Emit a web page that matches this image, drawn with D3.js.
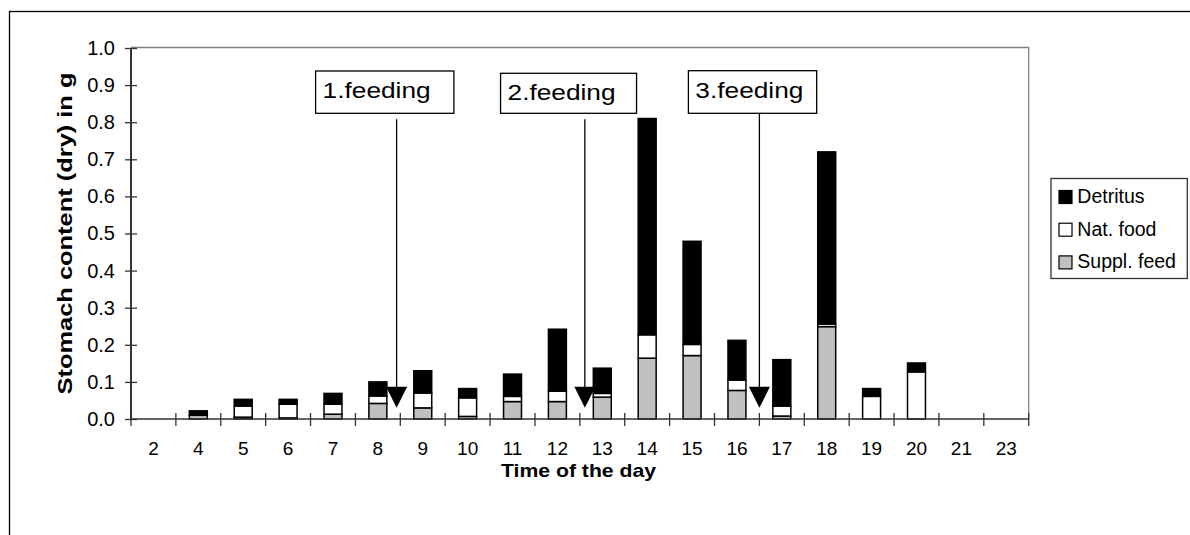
<!DOCTYPE html>
<html>
<head>
<meta charset="utf-8">
<script src="https://cdn.jsdelivr.net/npm/d3@7"></script>
<style>
  body { margin: 0; background: #fff; }
  svg { display: block; font-family: "Liberation Sans", Arial, sans-serif; }
</style>
</head>
<body>
<svg id="chart" width="1190" height="535"></svg>
<script>
// hours of the day (categories)
const hours = ["2", "4", "5", "6", "7", "8", "9", "10", "11", "12", "13", "14", "15", "16", "17", "18", "19", "20", "21", "23"];

// stomach content (dry) in g, per component
const supplFeed = [0, 0.010, 0.005, 0.003, 0.013, 0.042, 0.030, 0.007, 0.047, 0.047, 0.059, 0.164, 0.171, 0.077, 0.008, 0.249, 0, 0, 0, 0];
const natFood   = [0, 0.000, 0.030, 0.037, 0.027, 0.020, 0.040, 0.050, 0.014, 0.028, 0.010, 0.063, 0.030, 0.028, 0.027, 0.007, 0.061, 0.127, 0, 0];
const detritus  = [0, 0.012, 0.018, 0.013, 0.029, 0.038, 0.060, 0.025, 0.060, 0.167, 0.068, 0.583, 0.278, 0.107, 0.125, 0.464, 0.021, 0.024, 0, 0];

const yTicks = [0, 0.1, 0.2, 0.3, 0.4, 0.5, 0.6, 0.7, 0.8, 0.9, 1.0];

// feeding events, placed at the gap after these hours
const feedingLabels = ["1.feeding", "2.feeding", "3.feeding"];
const feedingAfter = ["8", "12", "16"];

const seriesNames = ["Suppl. feed", "Nat. food", "Detritus"];
const seriesColors = { "Suppl. feed": "#c0c0c0", "Nat. food": "#ffffff", "Detritus": "#000000" };

const svg = d3.select("#chart");
const plotLeft = 131, plotRight = 1028.7, plotTop = 48, plotBottom = 419;

// outer chart frame
svg.append("rect")
  .attr("x", 9.5).attr("y", 11.5).attr("width", 1300).attr("height", 700)
  .attr("fill", "none").attr("stroke", "#000").attr("stroke-width", 1.3);

// plot area frame (grey top/right)
svg.append("path")
  .attr("d", `M${plotLeft},${plotTop - 0.5}H${plotRight}V${plotBottom}`)
  .attr("fill", "none").attr("stroke", "#808080").attr("stroke-width", 1.3);

const x = d3.scaleBand().domain(hours).range([plotLeft, plotRight]).paddingInner(0.6).paddingOuter(0.3);
const y = d3.scaleLinear().domain([0, 1]).range([plotBottom, plotTop]);

const rows = hours.map((h, i) => ({
  hour: h,
  "Suppl. feed": supplFeed[i],
  "Nat. food": natFood[i],
  "Detritus": detritus[i]
}));
const stacked = d3.stack().keys(seriesNames)(rows);

const gap = (x.step() - x.bandwidth()) / 2;

// bars
svg.append("g").selectAll("g")
  .data(stacked)
  .join("g")
  .attr("fill", d => seriesColors[d.key])
  .selectAll("rect")
  .data(d => d.filter(s => s[1] - s[0] > 0))
  .join("rect")
  .attr("x", d => x(d.data.hour))
  .attr("width", x.bandwidth())
  .attr("y", d => y(d[1]))
  .attr("height", d => y(d[0]) - y(d[1]))
  .attr("stroke", "#000")
  .attr("stroke-width", 1.5);

// y axis
const yAxis = svg.append("g")
  .attr("transform", `translate(${plotLeft},0)`)
  .call(d3.axisLeft(y).tickValues(yTicks).tickFormat(d3.format(".1f")).tickSize(6).tickPadding(10));
yAxis.select(".domain").attr("stroke", "#333").attr("stroke-width", 2).attr("d", `M0,${plotTop}V${plotBottom}`);
yAxis.selectAll(".tick line").attr("x1", -6).attr("x2", 6).attr("stroke", "#333").attr("stroke-width", 1.3);
yAxis.selectAll(".tick text").attr("font-size", 20).attr("fill", "#000")
  .attr("font-family", "'Liberation Sans', Arial, sans-serif");

// x axis
const xAxis = svg.append("g")
  .attr("transform", `translate(0,${plotBottom})`)
  .call(d3.axisBottom(x).tickSize(0).tickPadding(23));
xAxis.select(".domain").attr("stroke", "#333").attr("stroke-width", 1.6).attr("d", `M${plotLeft},0H${plotRight}`);
xAxis.selectAll(".tick text").attr("font-size", 19).attr("fill", "#000")
  .attr("font-family", "'Liberation Sans', Arial, sans-serif");

// tick marks between categories
const bounds = hours.map(h => x(h) - gap).concat([plotRight]);
xAxis.append("g").selectAll("line")
  .data(bounds)
  .join("line")
  .attr("x1", d => d).attr("x2", d => d)
  .attr("y1", -6).attr("y2", 7)
  .attr("stroke", "#333").attr("stroke-width", 1.3);

// axis titles
svg.append("text")
  .attr("transform", "translate(72,233.5) rotate(-90)")
  .attr("text-anchor", "middle")
  .attr("font-size", 21).attr("font-weight", "bold")
  .attr("textLength", 322).attr("lengthAdjust", "spacingAndGlyphs")
  .text("Stomach content (dry) in g");

svg.append("text")
  .attr("x", 578.5).attr("y", 477)
  .attr("text-anchor", "middle")
  .attr("font-size", 19).attr("font-weight", "bold")
  .attr("textLength", 155).attr("lengthAdjust", "spacingAndGlyphs")
  .text("Time of the day");

// feeding annotations
const arrowShift = [-3.7, 5, 0];
const boxLeft = [-81, -84.3, -71];
const boxWidth = [138.3, 136, 128.3];
const boxTop = [71, 73.3, 70.7];
const lineStart = [119.3, 119.3, 113.3];

const ann = svg.append("g");
feedingLabels.forEach((label, i) => {
  const ax = x(feedingAfter[i]) + x.bandwidth() + gap + arrowShift[i];
  const tipY = y(0.03);
  const bx = ax + boxLeft[i];
  ann.append("rect")
    .attr("x", bx).attr("y", boxTop[i])
    .attr("width", boxWidth[i]).attr("height", 113.3 - boxTop[i])
    .attr("fill", "#fff").attr("stroke", "#000").attr("stroke-width", 1.3);
  ann.append("text")
    .attr("x", bx + 7).attr("y", boxTop[i] + 27)
    .attr("font-size", 22)
    .attr("textLength", 108).attr("lengthAdjust", "spacingAndGlyphs")
    .text(label);
  ann.append("line")
    .attr("x1", ax).attr("x2", ax)
    .attr("y1", lineStart[i]).attr("y2", tipY - 19)
    .attr("stroke", "#000").attr("stroke-width", 1.3);
  ann.append("path")
    .attr("d", `M${ax - 10.5},${tipY - 21}L${ax + 10.5},${tipY - 21}L${ax},${tipY}Z`)
    .attr("fill", "#000");
});

// legend
const legend = svg.append("g").attr("transform", "translate(1051,178.5)");
legend.append("rect")
  .attr("width", 136.3).attr("height", 100)
  .attr("fill", "#fff").attr("stroke", "#333").attr("stroke-width", 1.3);
const legendOrder = seriesNames.slice().reverse();
legendOrder.forEach((name, i) => {
  const g = legend.append("g").attr("transform", `translate(0,${12 + i * 32.7})`);
  g.append("rect")
    .attr("x", 8).attr("y", 0).attr("width", 13).attr("height", 13)
    .attr("fill", seriesColors[name]).attr("stroke", "#000").attr("stroke-width", 1.2);
  g.append("text")
    .attr("x", 26.3).attr("y", 12.5)
    .attr("font-size", 19.5)
    .text(name);
});
</script>
</body>
</html>
